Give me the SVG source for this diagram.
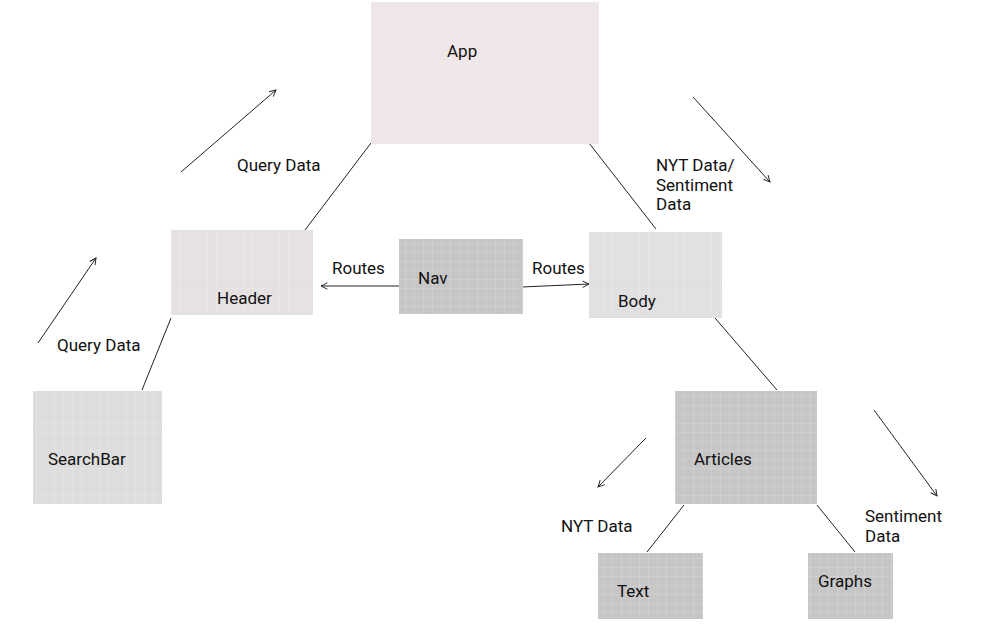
<svg xmlns="http://www.w3.org/2000/svg" width="995" height="643" viewBox="0 0 995 643">
<style>
text{font-family:Roboto,"Liberation Sans",sans-serif;font-size:17px;fill:#111}
.ln{stroke:#222;stroke-width:1;fill:none}
.ar{stroke:#222;stroke-width:1;fill:none;marker-end:url(#ah)}
.grid{fill:url(#g)}
</style>
<defs>
<marker id="ah" viewBox="0 0 10 10" refX="9" refY="5" markerWidth="8" markerHeight="8" orient="auto" markerUnits="userSpaceOnUse">
<path d="M1,1 L9,5 L1,9" fill="none" stroke="#222" stroke-width="1.2"/>
</marker>
<pattern id="g" width="9" height="9" patternUnits="userSpaceOnUse">
<path d="M0,0.5 H9 M0.5,0 V9" stroke="#ffffff" stroke-opacity="0.14" stroke-width="1"/>
</pattern>
</defs>
<rect width="995" height="643" fill="#ffffff"/>
<g id="connectors">
<line class="ln" x1="371" y1="143" x2="305" y2="230"/>
<line class="ln" x1="589" y1="143" x2="656" y2="229"/>
<line class="ln" x1="171" y1="318" x2="142" y2="390"/>
<line class="ar" x1="399" y1="286" x2="321" y2="286"/>
<line class="ar" x1="522" y1="287" x2="589" y2="284"/>
<line class="ln" x1="715" y1="318" x2="777" y2="390"/>
<line class="ln" x1="684" y1="505" x2="647" y2="552"/>
<line class="ln" x1="817" y1="505" x2="855" y2="552"/>
<line class="ar" x1="181" y1="172" x2="276" y2="90"/>
<line class="ar" x1="38" y1="343" x2="96" y2="258"/>
<line class="ar" x1="693" y1="97" x2="770" y2="182"/>
<line class="ar" x1="646" y1="438" x2="598" y2="487"/>
<line class="ar" x1="874" y1="410" x2="937" y2="496"/>
</g>
<g id="labels">
<text x="237" y="171">Query Data</text>
<text x="57" y="351">Query Data</text>
<text x="332" y="274">Routes</text>
<text x="532" y="274">Routes</text>
<text x="656" y="171">NYT Data/</text>
<text x="656" y="191">Sentiment</text>
<text x="656" y="210">Data</text>
<text x="561" y="532">NYT Data</text>
<text x="865" y="522">Sentiment</text>
<text x="865" y="542">Data</text>
</g>
<g id="app">
<rect x="371" y="2" width="228" height="142" fill="#EFE6E7"/>
<rect x="371" y="2" width="228" height="142" class="grid"/>
<text x="447" y="57">App</text>
</g>
<g id="header">
<rect x="171" y="230" width="142" height="85" fill="#E6E1E1"/>
<rect x="171" y="230" width="142" height="85" class="grid"/>
<text x="217" y="304">Header</text>
</g>
<g id="nav">
<rect x="399" y="239" width="124" height="75" fill="#C6C6C6"/>
<rect x="399" y="239" width="124" height="75" class="grid"/>
<text x="418" y="284">Nav</text>
</g>
<g id="body">
<rect x="589" y="232" width="133" height="86" fill="#E0E0E0"/>
<rect x="589" y="232" width="133" height="86" class="grid"/>
<text x="618" y="307">Body</text>
</g>
<g id="searchbar">
<rect x="33" y="391" width="129" height="113" fill="#DDDDDD"/>
<rect x="33" y="391" width="129" height="113" class="grid"/>
<text x="48" y="465">SearchBar</text>
</g>
<g id="articles">
<rect x="675" y="391" width="142" height="113" fill="#C6C6C6"/>
<rect x="675" y="391" width="142" height="113" class="grid"/>
<text x="694" y="465">Articles</text>
</g>
<g id="text">
<rect x="598" y="553" width="105" height="66" fill="#C6C6C6"/>
<rect x="598" y="553" width="105" height="66" class="grid"/>
<text x="617" y="597">Text</text>
</g>
<g id="graphs">
<rect x="808" y="553" width="85" height="66" fill="#C6C6C6"/>
<rect x="808" y="553" width="85" height="66" class="grid"/>
<text x="818" y="587">Graphs</text>
</g>
</svg>
